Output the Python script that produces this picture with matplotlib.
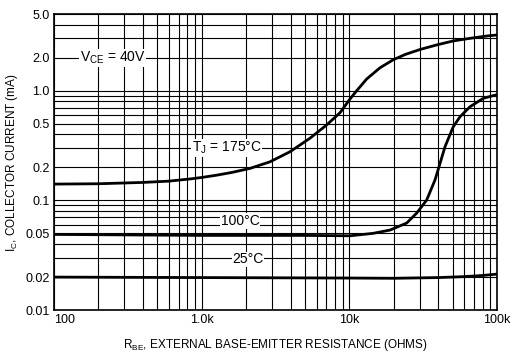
import matplotlib
matplotlib.use('Agg')
import matplotlib.pyplot as plt
from matplotlib import font_manager
from matplotlib.ticker import FixedLocator, NullFormatter, LogLocator

names = {f.name for f in font_manager.fontManager.ttflist}
face = 'Liberation Sans Narrow' if 'Liberation Sans Narrow' in names else 'Liberation Sans'

plt.rcParams['font.family'] = [face, 'DejaVu Sans']
plt.rcParams['mathtext.fontset'] = 'custom'
plt.rcParams['mathtext.rm'] = face
plt.rcParams['mathtext.it'] = face

# collector current (mA) vs base-emitter resistance (ohms), VCE = 40V
r_175 = [100, 200, 400, 600, 833, 1000, 1264, 1600, 2123, 2900, 3963, 5408, 7017,
         8636, 10090, 11200, 13090, 16100, 19830, 24000, 30060, 39000, 50500,
         65600, 85000, 100000]
ic_175 = [0.141, 0.142, 0.146, 0.150, 0.157, 0.162, 0.170, 0.180, 0.196, 0.225,
          0.278, 0.369, 0.488, 0.63, 0.84, 1.0, 1.28, 1.62, 1.92, 2.15,
          2.38, 2.62, 2.85, 3.01, 3.16, 3.23]

r_100 = [100, 1000, 5000, 10090, 14450, 18850, 24430, 28560, 33360, 37980,
         39800, 44400, 50500, 56100, 65600, 80700, 98000]
ic_100 = [0.049, 0.048, 0.048, 0.0476, 0.0501, 0.0537, 0.0622, 0.0767, 0.1008,
          0.1536, 0.189, 0.309, 0.47, 0.58, 0.716, 0.855, 0.916]

r_25 = [100, 1000, 10000, 20000, 40000, 60000, 80000, 100000]
ic_25 = [0.0200, 0.0198, 0.0196, 0.0195, 0.0198, 0.0202, 0.0207, 0.0213]

x_ticks = [100, 1000, 10000, 100000]
x_labels = ['100', '1.0k', '10k', '100k']
y_ticks = [0.01, 0.02, 0.05, 0.1, 0.2, 0.5, 1.0, 2.0, 5.0]
y_labels = ['0.01', '0.02', '0.05', '0.1', '0.2', '0.5', '1.0', '2.0', '5.0']

fig = plt.figure(figsize=(5.13, 3.54), dpi=100)
ax = fig.add_axes([0.105, 0.124, 0.864, 0.836])
ax.set_xscale('log')
ax.set_yscale('log')
ax.set_xlim(100, 100000)
ax.set_ylim(0.01, 5.0)

# full log grid on both axes
ax.xaxis.set_major_locator(FixedLocator(x_ticks))
ax.xaxis.set_minor_locator(LogLocator(base=10, subs=range(2, 10)))
ax.yaxis.set_major_locator(FixedLocator(y_ticks))
ax.yaxis.set_minor_locator(LogLocator(base=10, subs=range(1, 10)))
ax.xaxis.set_minor_formatter(NullFormatter())
ax.yaxis.set_minor_formatter(NullFormatter())
ax.set_xticklabels(x_labels)
ax.set_yticklabels(y_labels)
ax.grid(True, which='both', color='black', linewidth=0.8)
ax.set_axisbelow(True)
ax.tick_params(which='both', length=0, labelsize=9, pad=3)
ax.get_xticklabels()[0].set_horizontalalignment('left')
for sp in ax.spines.values():
    sp.set_linewidth(1.2)

ax.plot(r_175, ic_175, color='black', linewidth=2)
ax.plot(r_100, ic_100, color='black', linewidth=2)
ax.plot(r_25, ic_25, color='black', linewidth=2)

box = dict(facecolor='white', edgecolor='none', pad=0.5)
ax.text(250, 2.0, r'V$_{\mathrm{CE}}$ = 40V', fontsize=10, ha='center', va='center', bbox=box)
ax.text(1480, 0.3, r'T$_{\mathrm{J}}$ = 175°C', fontsize=10, ha='center', va='center', bbox=box)
ax.text(1820, 0.065, '100°C', fontsize=10, ha='center', va='center', bbox=box)
ax.text(2060, 0.029, '25°C', fontsize=10, ha='center', va='center', bbox=box)

ax.set_xlabel(r'R$_{\mathrm{BE}}$, EXTERNAL BASE-EMITTER RESISTANCE (OHMS)', fontsize=8.5, labelpad=8)
ax.set_ylabel(r'I$_{\mathrm{C}}$, COLLECTOR CURRENT (mA)', fontsize=8.5, labelpad=4)

fig.savefig('out.png', dpi=100)
